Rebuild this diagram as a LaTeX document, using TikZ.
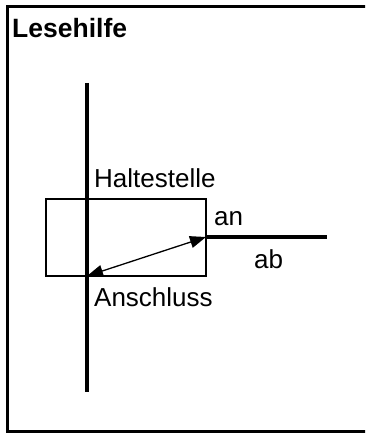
\documentclass[tikz,border=0pt]{standalone}
\usepackage{fontspec}
\setmainfont{Liberation Sans}
\usetikzlibrary{arrows.meta}
\usetikzlibrary{positioning}

\tikzset{
  lbl/.style={inner sep=0pt, anchor=west, font=\fontsize{26}{30}\selectfont},
  track/.style={line width=4pt},
}

\begin{document}
\begin{tikzpicture}[x=1pt,y=-1pt]
\useasboundingbox (0,0) rectangle (365,433);
\clip (0,0) rectangle (365,433);

% frame
\draw[line width=3pt] (7.5,6.5) rectangle (380,431.5);
\node[lbl, font=\fontsize{26.5}{30}\selectfont\bfseries] (title) at (12,28) {Lesehilfe};

% station box
\draw[line width=2pt] (46,199) rectangle (206,276);

% lines
\coordinate (top) at (87,83);
\coordinate (bot) at (87,392);
\coordinate (an) at (206,237);
\coordinate (anschl) at (87,276);
\coordinate (east) at (327,237);
\draw[track] (top) -- (bot);
\draw[track] (an) -- (east);
\draw[line width=1.3pt, {Triangle[length=16pt,width=12pt]}-{Triangle[length=16pt,width=12pt]}] (anschl) -- (an);

\node[lbl] (halt) at (94,178) {Haltestelle};
\node[lbl] (anl) at (214,219) {an};
\node[lbl] (abl) at (254,259) {ab};
\node[lbl] (ansl) at (94,297) {Anschluss};

\end{tikzpicture}
\end{document}
